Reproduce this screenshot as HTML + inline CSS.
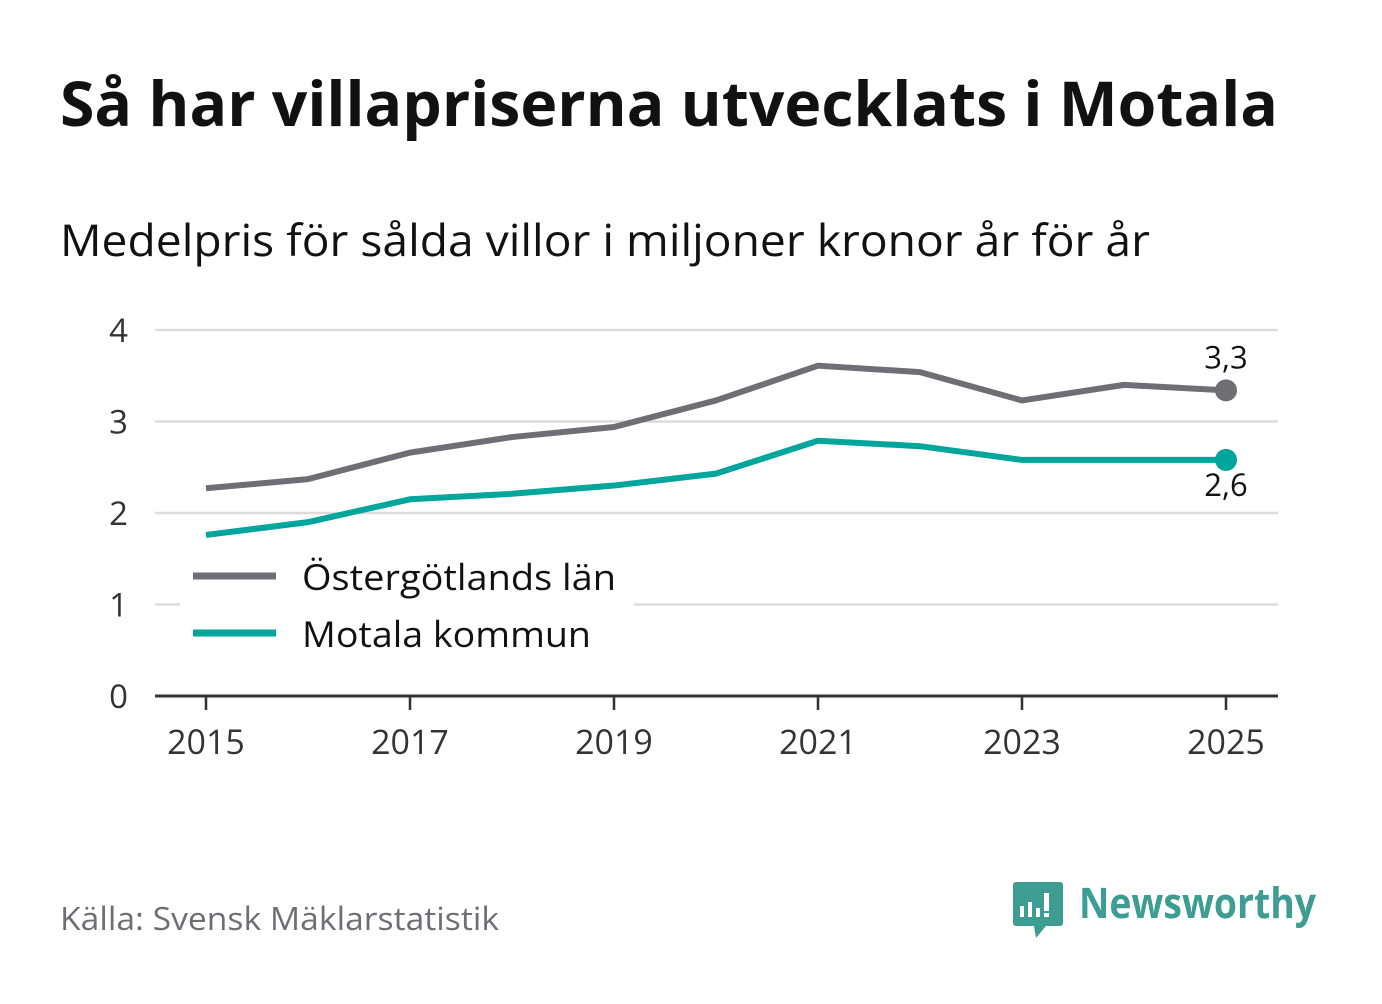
<!DOCTYPE html>
<html><head><meta charset="utf-8"><style>
body{margin:0;width:1382px;height:999px;background:#fff;overflow:hidden;font-family:"Open Sans","DejaVu Sans","Liberation Sans",sans-serif;}
</style></head><body>
<svg id="c" width="1382" height="999" xmlns="http://www.w3.org/2000/svg">
<text x="60" y="126" font-size="62" font-weight="bold" fill="#111" textLength="1218" lengthAdjust="spacingAndGlyphs">Så har villapriserna utvecklats i Motala</text>
<text x="60" y="256" font-size="44" fill="#111" textLength="1090" lengthAdjust="spacingAndGlyphs">Medelpris för sålda villor i miljoner kronor år för år</text>
<g id="grid"></g><g id="lines"></g>
<g>
<rect x="180" y="552" width="454" height="112" fill="#fff"/>
<line x1="193" y1="576" x2="276" y2="576" stroke="#6f6e75" stroke-width="7"/>
<text x="302" y="590" font-size="36" fill="#111" textLength="314" lengthAdjust="spacingAndGlyphs">Östergötlands län</text>
<line x1="193" y1="633" x2="276" y2="633" stroke="#00a59c" stroke-width="7"/>
<text x="302" y="647" font-size="36" fill="#111" textLength="289" lengthAdjust="spacingAndGlyphs">Motala kommun</text>
</g>
<text x="60" y="930" font-size="32" fill="#6f6e75" textLength="439" lengthAdjust="spacingAndGlyphs">Källa: Svensk Mäklarstatistik</text>
<g>
<path d="M1016 882 h44 a3 3 0 0 1 3 3 v38 a3 3 0 0 1 -3 3 h-14 l-10 12 l-2 -12 h-18 a3 3 0 0 1 -3 -3 v-38 a3 3 0 0 1 3 -3z" fill="#3d9d93"/>
<rect x="1020" y="906" width="4" height="11" fill="#fff"/><rect x="1028" y="902" width="4" height="15" fill="#fff"/><rect x="1036" y="908" width="4" height="9" fill="#fff"/><rect x="1044" y="893" width="5" height="18" fill="#fff"/><rect x="1044" y="913" width="5" height="4" fill="#fff"/>
<text x="1079" y="918" font-size="42" font-weight="bold" fill="#3d9d93" textLength="237" lengthAdjust="spacingAndGlyphs">Newsworthy</text>
</g>
</svg>
<script>
const years=[2015,2016,2017,2018,2019,2020,2021,2022,2023,2024,2025];
const lan=[2.27,2.37,2.66,2.83,2.94,3.23,3.61,3.54,3.23,3.40,3.34];
const motala=[1.76,1.90,2.15,2.21,2.30,2.43,2.79,2.73,2.58,2.58,2.58];
const yTicks=[0,1,2,3,4];
const xTicks=[2015,2017,2019,2021,2023,2025];
const lastLabels=["3,3","2,6"];
const NS="http://www.w3.org/2000/svg";
const X=v=>206+(v-2015)*102, Y=v=>696-v*91.5;
function mk(t,a,p){const e=document.createElementNS(NS,t);for(const k in a)e.setAttribute(k,a[k]);p.appendChild(e);return e;}
const g=document.getElementById('grid'), L=document.getElementById('lines');
yTicks.forEach(v=>{
 if(v>0){const l=mk('line',{x1:155,x2:1278,y1:Y(v),y2:Y(v),stroke:'#dcdcdc','stroke-width':2.5},g);
 
 }
 const t=mk('text',{x:128,y:Y(v)+12,'font-size':33,fill:'#333','text-anchor':'end'},g);t.textContent=v;
 
 
});
const ax=mk('line',{x1:155,x2:1278,y1:696,y2:696,stroke:'#333','stroke-width':3},g);


xTicks.forEach(v=>{
 const tk=mk('line',{x1:X(v),x2:X(v),y1:696,y2:710,stroke:'#333','stroke-width':2.5},g);
 
 
 const t=mk('text',{x:X(v),y:754,'font-size':34,fill:'#333','text-anchor':'middle'},g);t.textContent=v;
 
 
});
[[lan,'#6f6e75','ostergotland-line',-22],[motala,'#00a59c','motala-line',36]].forEach((s,i)=>{
 const p=mk('polyline',{points:s[0].map((v,j)=>X(years[j])+','+Y(v)).join(' '),fill:'none',stroke:s[1],'stroke-width':6,'stroke-linejoin':'round'},L);
 
 
 const n=s[0].length-1;
 const c=mk('circle',{cx:X(years[n]),cy:Y(s[0][n]),r:11,fill:s[1]},L);
 
 
 const t=mk('text',{x:X(years[n]),y:Y(s[0][n])+s[3],'font-size':31,fill:'#111','text-anchor':'middle'},L);t.textContent=lastLabels[i];
 
 
});
</script>
</body></html>
